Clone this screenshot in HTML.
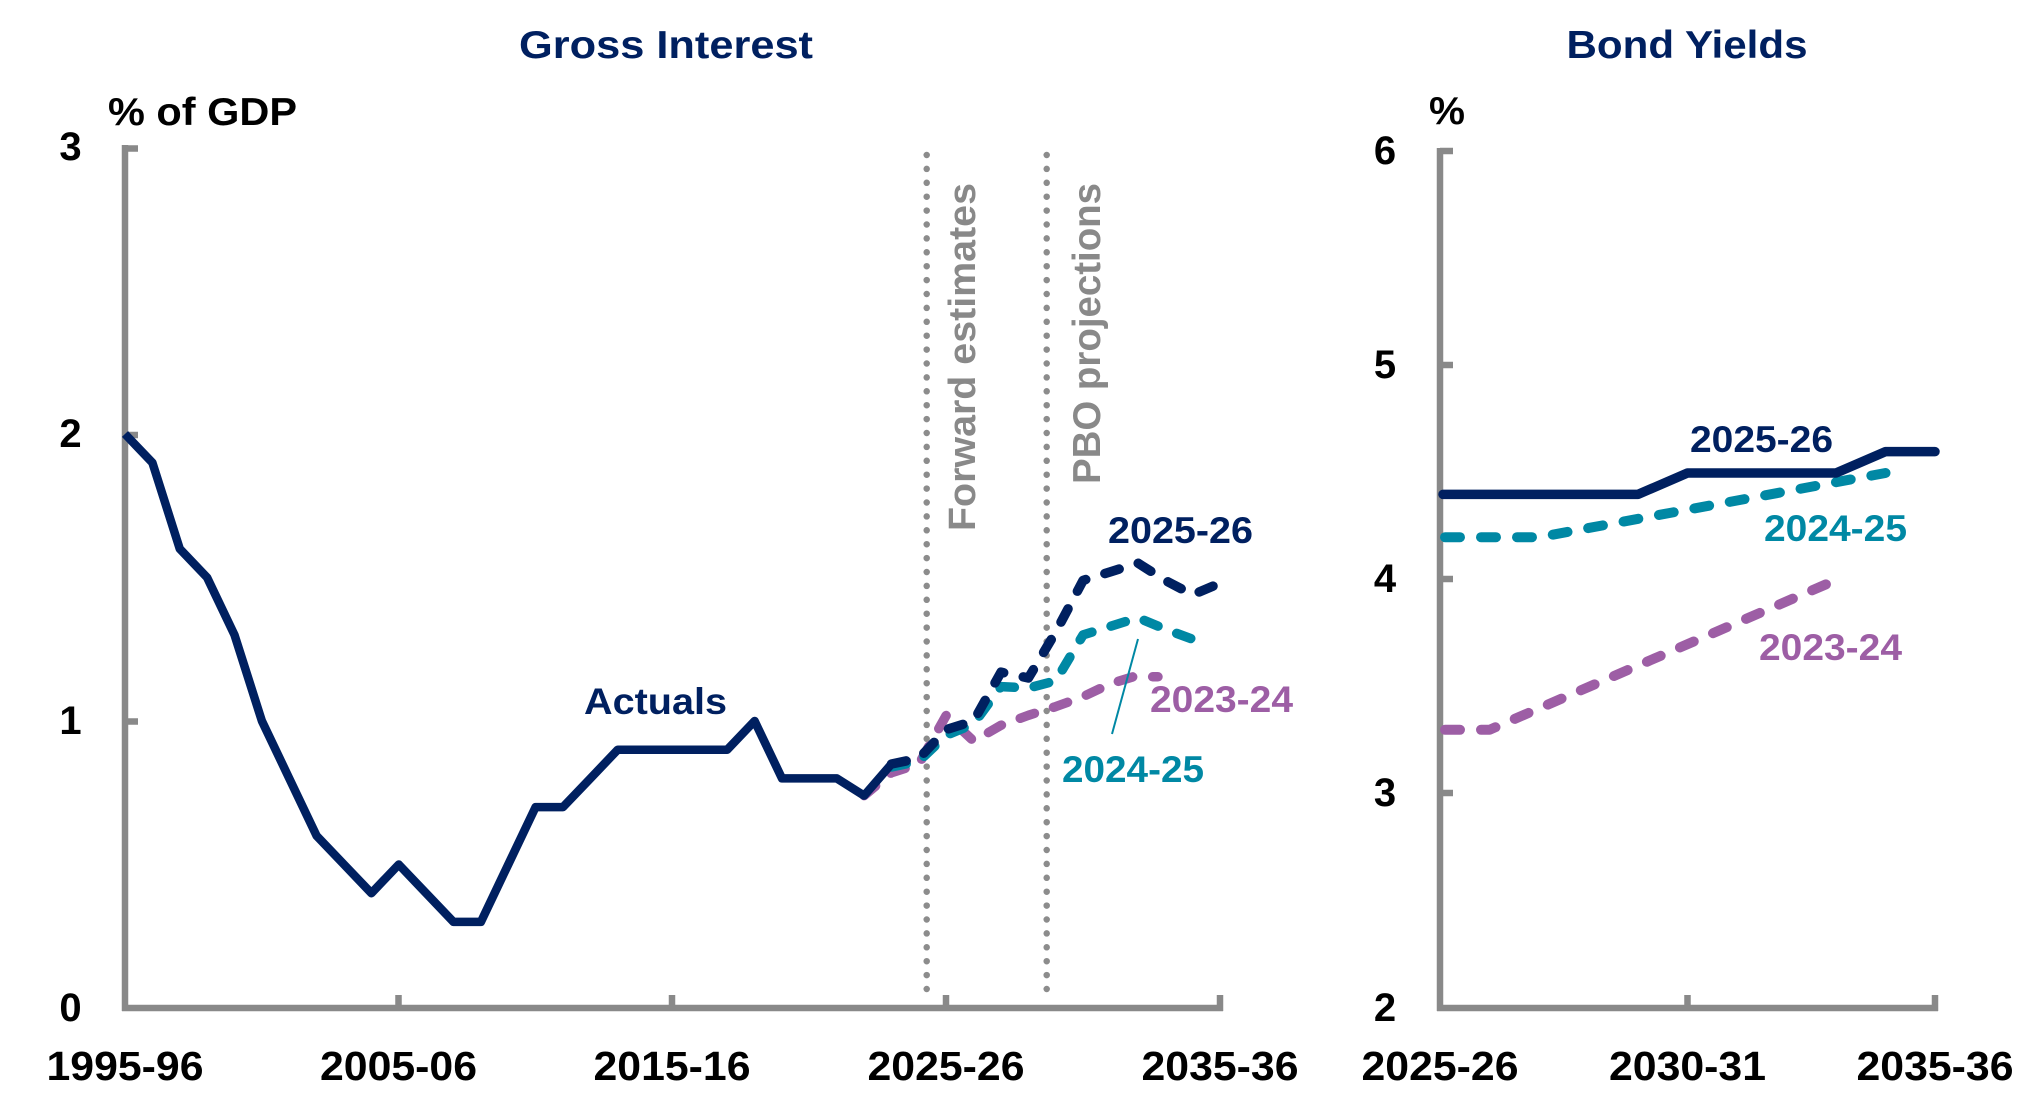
<!DOCTYPE html>
<html>
<head>
<meta charset="utf-8">
<style>
  html, body { margin: 0; padding: 0; background: #ffffff; }
  svg { display: block; }
  text { font-family: "Liberation Sans", Arial, sans-serif; font-weight: bold; }
</style>
</head>
<body>
<svg width="2043" height="1104" viewBox="0 0 2043 1104" xmlns="http://www.w3.org/2000/svg">
  <rect x="0" y="0" width="2043" height="1104" fill="#ffffff"/>

  <!-- Titles -->
  <text x="666" y="58" font-size="39" fill="#002060" text-anchor="middle" textLength="294" lengthAdjust="spacingAndGlyphs">Gross Interest</text>
  <text x="1687" y="58" font-size="39" fill="#002060" text-anchor="middle" textLength="241" lengthAdjust="spacingAndGlyphs">Bond Yields</text>

  <!-- Unit labels -->
  <text x="108" y="125" font-size="39" fill="#000000" textLength="189" lengthAdjust="spacingAndGlyphs">% of GDP</text>
  <text x="1429" y="124" font-size="39" fill="#000000" textLength="36" lengthAdjust="spacingAndGlyphs">%</text>

  <!-- ===== LEFT CHART ===== -->
  <line x1="926.7" y1="155" x2="926.7" y2="997" stroke="#8c8c8c" stroke-width="6.5" stroke-linecap="round" stroke-dasharray="0 13.9"/>
  <line x1="1046.7" y1="155" x2="1046.7" y2="997" stroke="#8c8c8c" stroke-width="6.5" stroke-linecap="round" stroke-dasharray="0 13.9"/>
  <text transform="translate(975,531) rotate(-90)" font-size="38" fill="#898989" textLength="348" lengthAdjust="spacingAndGlyphs">Forward estimates</text>
  <text transform="translate(1100,484) rotate(-90)" font-size="39" fill="#898989" textLength="301" lengthAdjust="spacingAndGlyphs">PBO projections</text>

  <g stroke="#898989" stroke-width="6.5" fill="none" stroke-linecap="butt">
    <line x1="125" y1="145" x2="125" y2="1011"/>
    <line x1="122" y1="1008" x2="1223" y2="1008"/>
    <line x1="125" y1="148.5" x2="138" y2="148.5"/>
    <line x1="125" y1="435" x2="138" y2="435"/>
    <line x1="125" y1="721.5" x2="138" y2="721.5"/>
    <line x1="398.5" y1="995" x2="398.5" y2="1008"/>
    <line x1="672" y1="995" x2="672" y2="1008"/>
    <line x1="946" y1="995" x2="946" y2="1008"/>
    <line x1="1220" y1="995" x2="1220" y2="1011"/>
  </g>

  <g font-size="40" fill="#000000" text-anchor="middle">
    <text x="70.5" y="160">3</text>
    <text x="70.5" y="447">2</text>
    <text x="70.5" y="734">1</text>
    <text x="70.5" y="1021">0</text>
  </g>

  <g font-size="41" fill="#000000" text-anchor="middle">
    <text x="125" y="1080" textLength="157" lengthAdjust="spacingAndGlyphs">1995-96</text>
    <text x="398.5" y="1080" textLength="157" lengthAdjust="spacingAndGlyphs">2005-06</text>
    <text x="672" y="1080" textLength="157" lengthAdjust="spacingAndGlyphs">2015-16</text>
    <text x="946" y="1080" textLength="157" lengthAdjust="spacingAndGlyphs">2025-26</text>
    <text x="1220" y="1080" textLength="157" lengthAdjust="spacingAndGlyphs">2035-36</text>
  </g>

  <polyline fill="none" stroke="#9d5ea5" stroke-width="9.5" stroke-linecap="round" stroke-linejoin="round" stroke-dasharray="15 20"
    points="864.1,795.6 891.5,772.7 918.9,764 946.25,715.3 973.6,741.1 1001,725.3 1028.4,715.3 1055.75,706.6 1083.1,696.6 1110.5,683.7 1133,676.8 1158,676.8"/>
  <polyline fill="none" stroke="#0088a4" stroke-width="9.5" stroke-linecap="round" stroke-linejoin="round" stroke-dasharray="15 20"
    points="891.5,767 918.9,761.2 946.25,735.3 973.6,723.9 1001,686.6 1028.4,688 1055.75,680.8 1083.1,634.9 1110.5,626.3 1137.9,617.7 1165.25,629.2 1192.6,639.2"/>
  <polyline fill="none" stroke="#002060" stroke-width="9.5" stroke-linecap="round" stroke-linejoin="round" stroke-dasharray="15 20"
    points="891.5,764 918.9,758.3 946.25,729.6 973.6,721 1001,672.2 1028.4,678 1055.75,632 1083.1,580.4 1110.5,571.8 1137.9,563.1 1165.25,580.4 1192.6,594.7 1220,583.2"/>
  <polyline fill="none" stroke="#002060" stroke-width="8.5" stroke-linecap="butt" stroke-linejoin="round"
    points="125,434 152.4,462.7 179.75,548.8 207.1,577.5 234.5,634.9 261.9,721 289.25,778.4 316.6,835.8 344,864.5 371.4,893.2 398.75,864.5 426.1,893.2 453.5,921.9 480.9,921.9 508.25,864.5 535.6,807.1 563,807.1 590.4,778.4 617.75,749.7 645.1,749.7 672.5,749.7 699.9,749.7 727.25,749.7 754.6,721 782,778.4 809.4,778.4 836.75,778.4 864.1,795.6 891.5,764"/>

  <line x1="1138" y1="639" x2="1112" y2="734" stroke="#0088a4" stroke-width="2"/>

  <text x="584" y="714" font-size="37" fill="#002060" textLength="143" lengthAdjust="spacingAndGlyphs">Actuals</text>
  <text x="1108" y="543" font-size="37" fill="#002060" textLength="145" lengthAdjust="spacingAndGlyphs">2025-26</text>
  <text x="1150" y="712" font-size="37" fill="#9d5ea5" textLength="143" lengthAdjust="spacingAndGlyphs">2023-24</text>
  <text x="1062" y="782" font-size="37" fill="#0088a4" textLength="142" lengthAdjust="spacingAndGlyphs">2024-25</text>

  <!-- ===== RIGHT CHART ===== -->
  <g stroke="#898989" stroke-width="6.5" fill="none" stroke-linecap="butt">
    <line x1="1440" y1="148" x2="1440" y2="1011"/>
    <line x1="1437" y1="1008" x2="1938" y2="1008"/>
    <line x1="1440" y1="151" x2="1453" y2="151"/>
    <line x1="1440" y1="365" x2="1453" y2="365"/>
    <line x1="1440" y1="579" x2="1453" y2="579"/>
    <line x1="1440" y1="793" x2="1453" y2="793"/>
    <line x1="1687.5" y1="995" x2="1687.5" y2="1008"/>
    <line x1="1935" y1="995" x2="1935" y2="1011"/>
  </g>

  <g font-size="40" fill="#000000" text-anchor="middle">
    <text x="1385" y="164">6</text>
    <text x="1385" y="378">5</text>
    <text x="1385" y="592">4</text>
    <text x="1385" y="806">3</text>
    <text x="1385" y="1021">2</text>
  </g>

  <g font-size="41" fill="#000000" text-anchor="middle">
    <text x="1440" y="1080" textLength="157" lengthAdjust="spacingAndGlyphs">2025-26</text>
    <text x="1687.5" y="1080" textLength="157" lengthAdjust="spacingAndGlyphs">2030-31</text>
    <text x="1935" y="1080" textLength="157" lengthAdjust="spacingAndGlyphs">2035-36</text>
  </g>

  <polyline fill="none" stroke="#9d5ea5" stroke-width="10" stroke-linecap="round" stroke-linejoin="round" stroke-dasharray="15 21"
    points="1445,729.8 1489.5,729.8 1836,580"/>
  <polyline fill="none" stroke="#0088a4" stroke-width="10" stroke-linecap="round" stroke-linejoin="round" stroke-dasharray="15 21"
    points="1445,537.2 1539,537.2 1885.5,473"/>
  <polyline fill="none" stroke="#002060" stroke-width="9.5" stroke-linecap="round" stroke-linejoin="round"
    points="1443,494.4 1638,494.4 1687.5,473 1836,473 1885.5,451.6 1935,451.6"/>

  <text x="1690" y="452" font-size="37" fill="#002060" textLength="143" lengthAdjust="spacingAndGlyphs">2025-26</text>
  <text x="1764" y="541" font-size="37" fill="#0088a4" textLength="143" lengthAdjust="spacingAndGlyphs">2024-25</text>
  <text x="1759" y="660" font-size="37" fill="#9d5ea5" textLength="143" lengthAdjust="spacingAndGlyphs">2023-24</text>
</svg>
</body>
</html>
